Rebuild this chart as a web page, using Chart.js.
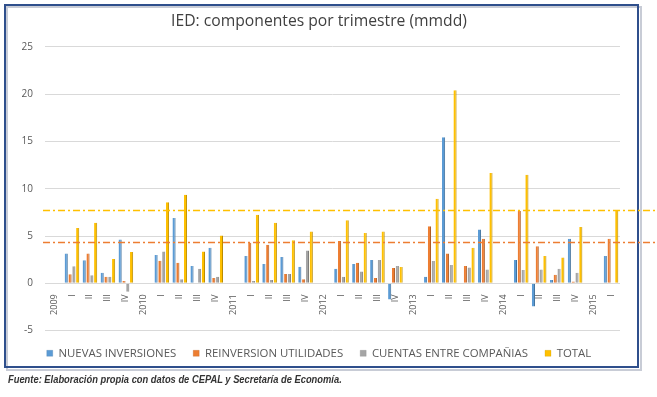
<!DOCTYPE html>
<html>
<head>
<meta charset="utf-8">
<script src="https://cdn.jsdelivr.net/npm/chart.js@4"></script>
<style>
  html, body { margin: 0; padding: 0; background: #fff; }
  #wrap { position: relative; width: 657px; height: 397px; }
  #fuente {
    position: absolute; left: 8px; top: 374px;
    font: italic bold 10px "Liberation Sans Narrow", "Liberation Sans", sans-serif;
    color: #333; white-space: nowrap;
    transform: scaleX(0.935); transform-origin: left top;
  }
</style>
</head>
<body>
<div id="wrap">
  <canvas id="iedChart" width="657" height="397"></canvas>
  <div id="fuente">Fuente: Elaboración propia con datos de CEPAL y Secretaría de Economía.</div>
</div>
<script>
// trimestres (los años van como separadores sin barras)
const trimestres = ['2009', 'I', 'II', 'III', 'IV', '2010', 'I', 'II', 'III', 'IV',
    '2011', 'I', 'II', 'III', 'IV', '2012', 'I', 'II', 'III', 'IV',
    '2013', 'I', 'II', 'III', 'IV', '2014', 'I', 'II', 'III', 'IV', '2015', 'I'];

const nuevasInversiones = [null, 3.15, 2.45, 1.12, 4.63, null, 2.98, 6.9, 1.82, 3.75,
    null, 2.88, 2.03, 2.77, 1.75, null, 1.55, 2.03, 2.46, -1.7,
    null, 0.7, 15.45, 0.05, 5.68, null, 2.46, -2.45, 0.35, 4.7, null, 2.88];
const reinversionUtilidades = [null, 0.95, 3.16, 0.7, 0.25, null, 2.39, 2.17, 0.05, 0.56,
    null, 4.28, 4.07, 0.98, 0.42, null, 4.46, 2.17, 0.56, 1.61,
    null, 6.04, 3.16, 1.82, 4.7, null, 7.65, 3.93, 0.91, 0.2, null, 4.7];
const cuentasEntreCompanias = [null, 1.8, 0.84, 0.7, -0.9, null, 3.37, 0.42, 1.55, 0.7,
    null, 0.25, 0.35, 0.98, 3.47, null, 0.7, 1.26, 2.46, 1.82,
    null, 2.35, 1.93, 1.68, 1.47, null, 1.4, 1.47, 1.54, 1.12, null, 0.05];
const total = [null, 5.86, 6.4, 2.56, 3.3, null, 8.56, 9.37, 3.37, 5.05,
    null, 7.26, 6.39, 4.56, 5.47, null, 6.67, 5.33, 5.47, 1.72,
    null, 8.95, 20.4, 3.75, 11.65, null, 11.47, 2.88, 2.74, 5.96, null, 7.65];

// promedios (lineas punto-raya)
const promedioTotal = 7.7;
const promedioReinversion = 4.4;

const gris = '#595959';

// marco azul
const marco = {
    id: 'marco',
    beforeDraw(chart) {
        const ctx = chart.ctx;
        ctx.save();
        ctx.fillStyle = '#fff';
        ctx.fillRect(0, 0, chart.width, chart.height);
        ctx.strokeStyle = '#c8ccd6';
        ctx.lineWidth = 2;
        ctx.strokeRect(7, 7, 634, 363);
        ctx.strokeStyle = '#2f4f8c';
        ctx.lineWidth = 2;
        ctx.strokeRect(5, 5, 633, 362);
        ctx.restore();
    }
};

// lineas de promedio, hasta el borde derecho
const promedios = {
    id: 'promedios',
    afterDatasetsDraw(chart) {
        const { ctx, chartArea, scales: { y } } = chart;
        ctx.save();
        ctx.lineWidth = 1.3;
        ctx.setLineDash([7, 3, 2, 3]);
        [[promedioTotal, '#ffc000'], [promedioReinversion, '#ed7d31']].forEach(([v, c]) => {
            const py = Math.round(y.getPixelForValue(v)) + 0.5;
            ctx.strokeStyle = c;
            ctx.beginPath();
            ctx.moveTo(chartArea.left - 2, py);
            ctx.lineTo(chart.width, py);
            ctx.stroke();
        });
        ctx.restore();
    }
};

const iedChart = new Chart(document.getElementById('iedChart'), {
    type: 'bar',
    data: {
        labels: trimestres,
        datasets: [
            { label: 'NUEVAS INVERSIONES', data: nuevasInversiones, backgroundColor: '#5b9bd5', borderColor: '#41719c' },
            { label: 'REINVERSION UTILIDADES', data: reinversionUtilidades, backgroundColor: '#ed7d31', borderColor: '#ae5a21' },
            { label: 'CUENTAS ENTRE COMPAÑIAS', data: cuentasEntreCompanias, backgroundColor: '#a5a5a5', borderColor: '#7c7c7c' },
            { label: 'TOTAL', data: total, backgroundColor: '#ffc000', borderColor: '#bc8c00' }
        ]
    },
    options: {
        responsive: false,
        animation: false,
        datasets: {
            bar: { categoryPercentage: 0.85, barPercentage: 0.82, borderWidth: { right: 1 } }
        },
        layout: { padding: { top: 4, left: 18, right: 37, bottom: 28 } },
        plugins: {
            title: {
                display: true,
                text: 'IED: componentes por trimestre (mmdd)',
                color: '#404040',
                font: { family: 'Open Sans', size: 15.7, weight: 'normal' },
                padding: { top: 8, bottom: 16 }
            },
            legend: {
                position: 'bottom',
                labels: {
                    boxWidth: 6,
                    boxHeight: 6,
                    color: gris,
                    padding: 17,
                    font: { family: 'Open Sans', size: 11.4 }
                }
            },
            tooltip: { enabled: false }
        },
        scales: {
            y: {
                min: -5,
                max: 25,
                ticks: { stepSize: 5, color: gris, padding: 12, font: { family: 'Open Sans', size: 10 } },
                grid: { color: '#d9d9d9', drawTicks: false },
                border: { display: false },
                afterFit: s => { s.width = 27; }
            },
            x: {
                position: { y: 0 },
                grid: { display: false },
                border: { display: false },
                ticks: {
                    autoSkip: false, maxRotation: 90, minRotation: 90,
                    color: gris, padding: 3, font: { family: 'Open Sans', size: 9 }
                }
            }
        }
    },
    plugins: [marco, promedios]
});
</script>
</body>
</html>
